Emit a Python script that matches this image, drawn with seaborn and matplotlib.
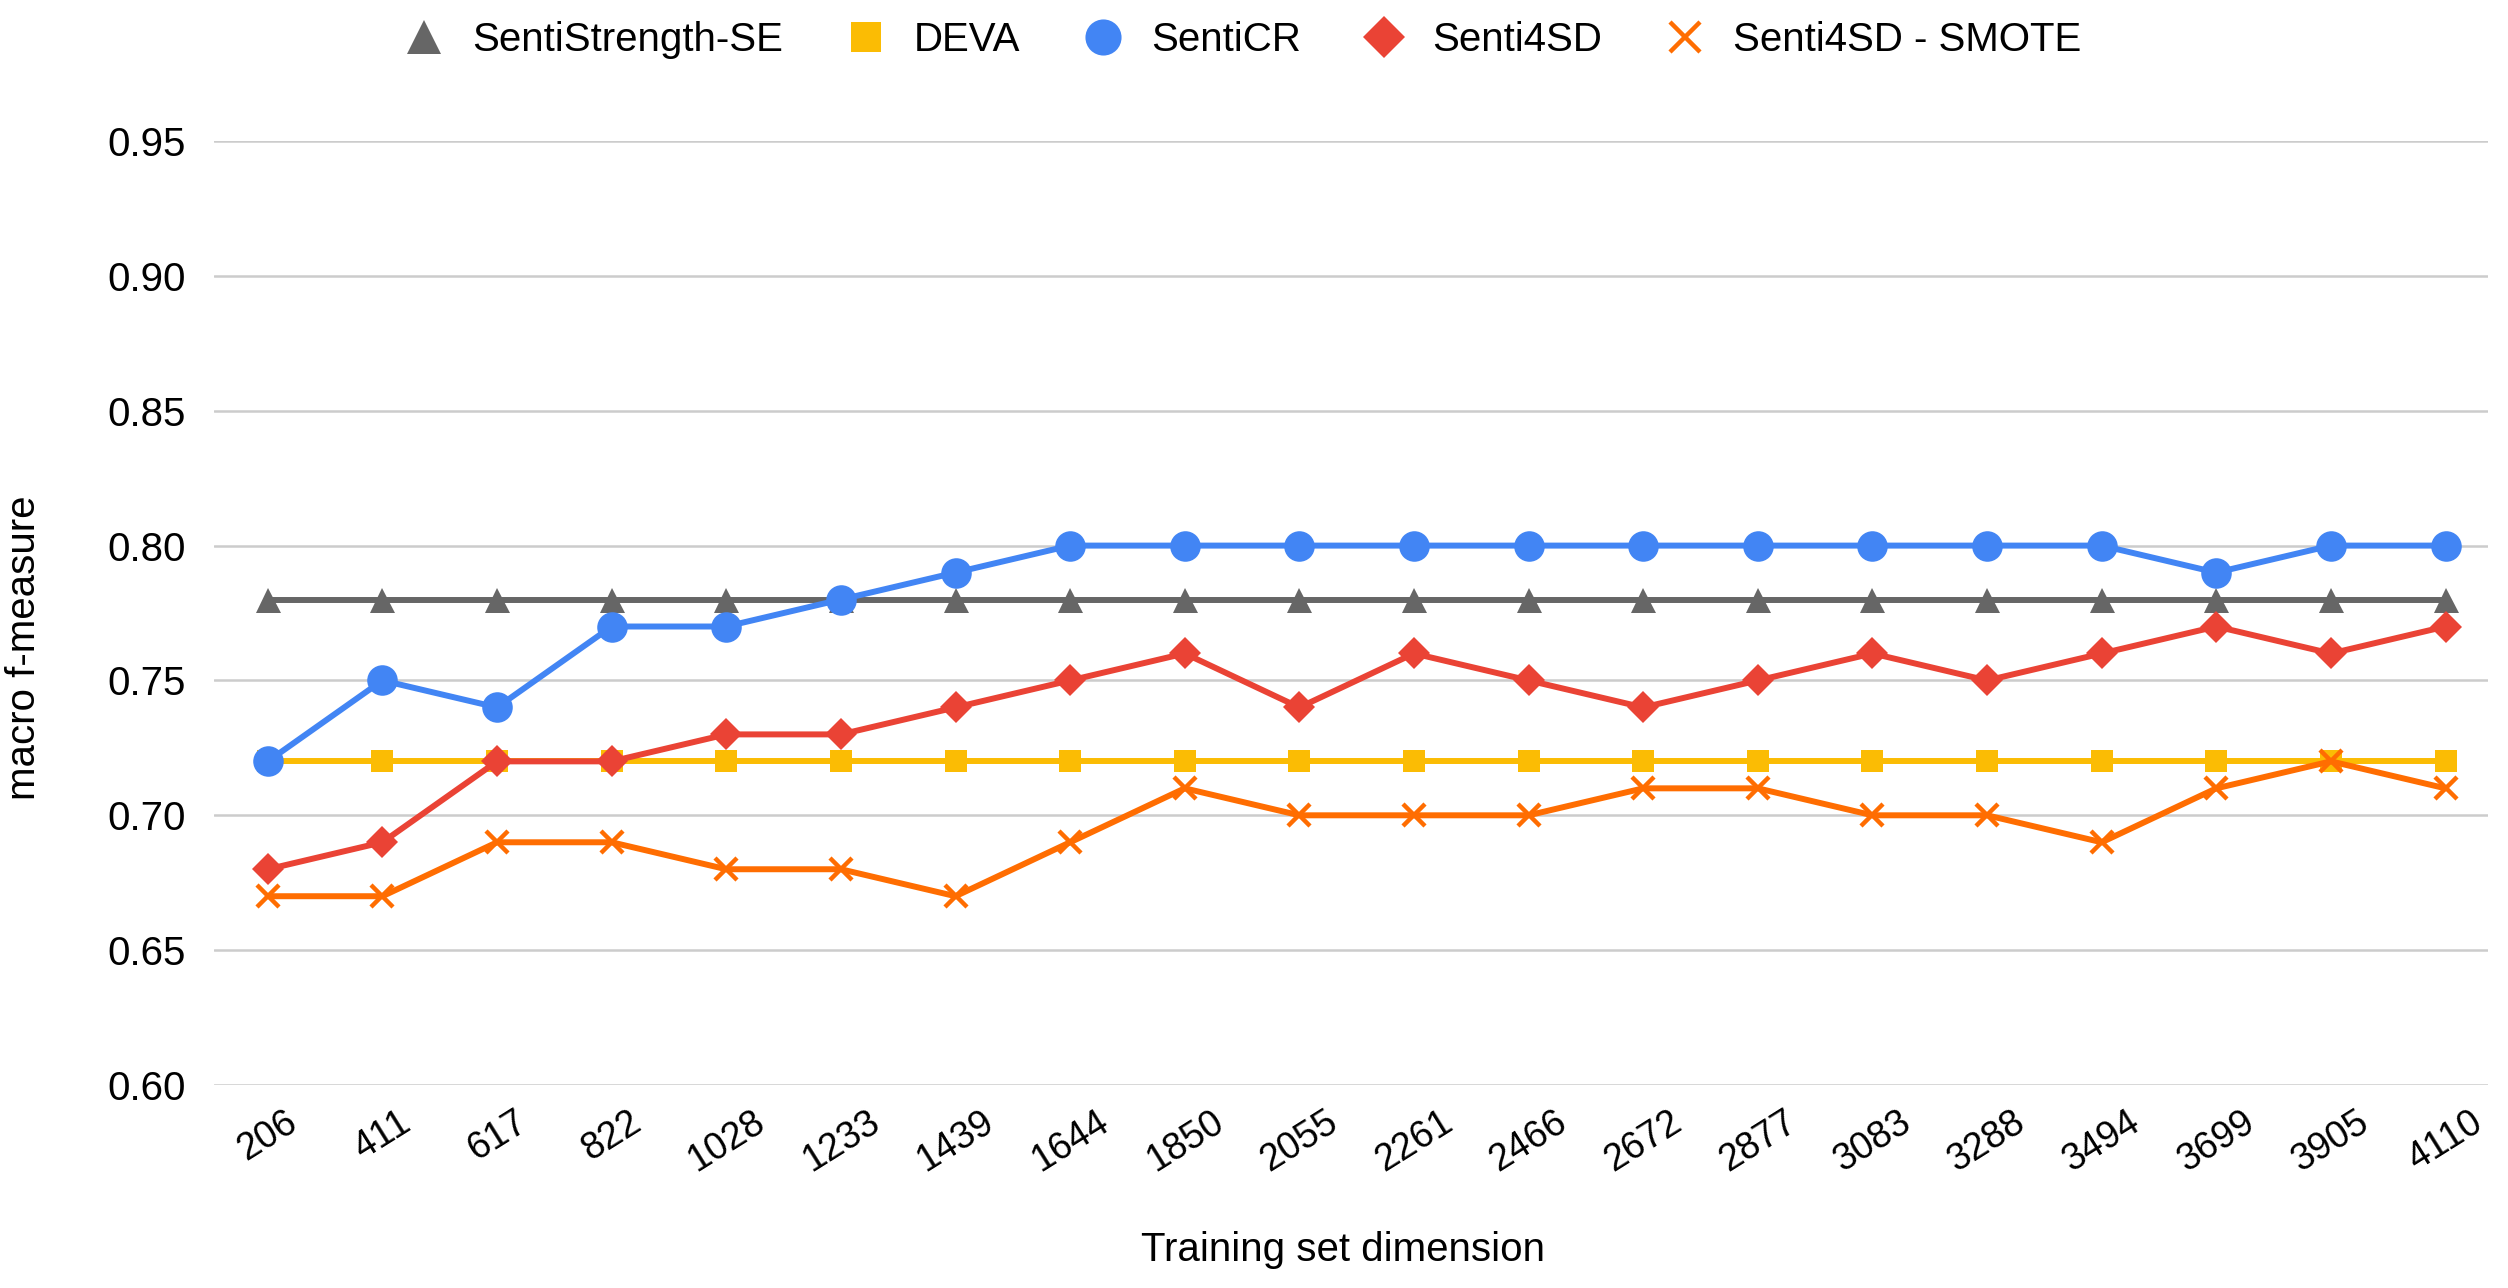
import matplotlib
matplotlib.use("Agg")
import matplotlib.pyplot as plt
from matplotlib.lines import Line2D
import seaborn as sns
import pandas as pd

# ---- data ----
train_sizes = ["206", "411", "617", "822", "1028", "1233", "1439", "1644", "1850", "2055",
               "2261", "2466", "2672", "2877", "3083", "3288", "3494", "3699", "3905", "4110"]
sentistrength_se = [0.78] * 20
deva = [0.72] * 20
senticr = [0.72, 0.75, 0.74, 0.77, 0.77, 0.78, 0.79, 0.80, 0.80, 0.80,
           0.80, 0.80, 0.80, 0.80, 0.80, 0.80, 0.80, 0.79, 0.80, 0.80]
senti4sd = [0.68, 0.69, 0.72, 0.72, 0.73, 0.73, 0.74, 0.75, 0.76, 0.74,
            0.76, 0.75, 0.74, 0.75, 0.76, 0.75, 0.76, 0.77, 0.76, 0.77]
senti4sd_smote = [0.67, 0.67, 0.69, 0.69, 0.68, 0.68, 0.67, 0.69, 0.71, 0.70,
                  0.70, 0.70, 0.71, 0.71, 0.70, 0.70, 0.69, 0.71, 0.72, 0.71]
y_ticks = [0.60, 0.65, 0.70, 0.75, 0.80, 0.85, 0.90, 0.95]

series_names = ["SentiStrength-SE", "DEVA", "SentiCR", "Senti4SD", "Senti4SD - SMOTE"]
series_values = [sentistrength_se, deva, senticr, senti4sd, senti4sd_smote]

# ---- styles ----
colors = ["#666666", "#FBBC04", "#4285F4", "#EA4335", "#FF6D01"]
markers = ["^", "s", "o", "D", "x"]
msizes = [18, 16, 22, 16.5, 16.5]
leg_sizes = [25, 21, 26, 21, 21]
mews = [0, 0, 0, 0, 3.2]

sns.set_style("white")
plt.rcParams['font.family'] = ['Liberation Sans', 'DejaVu Sans']
plt.rcParams['text.color'] = 'black'
plt.rcParams['axes.labelcolor'] = 'black'
plt.rcParams['xtick.color'] = 'black'
plt.rcParams['ytick.color'] = 'black'

fig = plt.figure(figsize=(25.08, 12.88), dpi=100)
ax = fig.add_axes([0.0853, 0.1576, 0.9067, 0.7329])

pos = list(range(len(train_sizes)))
for i, (name, vals) in enumerate(zip(series_names, series_values)):
    df = pd.DataFrame({"x": pos, "y": vals})
    sns.lineplot(data=df, x="x", y="y", ax=ax, color=colors[i], linewidth=4.3,
                 marker=markers[i], markersize=msizes[i], markeredgewidth=mews[i],
                 markeredgecolor=colors[i], zorder=3 + i, sort=False)

ax.set_xlim(-0.47, 19.37)
ax.set_ylim(0.60, 0.95)
ax.set_yticks(y_ticks)
ax.set_yticklabels([f"{v:.2f}" for v in y_ticks])
ax.set_xticks(pos)
ax.set_xticklabels(train_sizes, rotation=32, ha="center")
ax.tick_params(axis="y", length=0, labelsize=29, pad=20)
ax.tick_params(axis="x", length=0, labelsize=27, pad=14)
ax.grid(axis="y", color="#cccccc", linewidth=1.8, zorder=0)
ax.grid(axis="x", visible=False)
for s in ax.spines.values():
    s.set_visible(False)

ax.set_xlabel("Training set dimension", fontsize=29)
ax.xaxis.set_label_coords(0.4965, -0.175)
ax.xaxis.label.set_va("center")
ax.set_ylabel("macro f-measure", fontsize=29)
ax.yaxis.set_label_coords(-0.0836, 0.463)
ax.yaxis.label.set_va("center")

handles = [Line2D([], [], linestyle="none", marker=markers[i], color=colors[i],
                  markersize=leg_sizes[i], markeredgewidth=mews[i],
                  markeredgecolor=colors[i]) for i in range(5)]
fig.legend(handles, series_names, loc="center", bbox_to_anchor=(0.4954, 0.969),
           ncol=5, frameon=False, fontsize=29, handletextpad=0.7, columnspacing=1.55,
           handlelength=1.0)

fig.savefig("out.png", dpi=100)
